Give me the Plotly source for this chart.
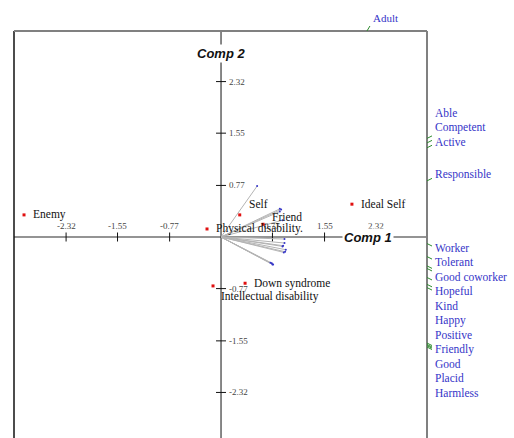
import plotly.graph_objects as go
import numpy as np

# ---- data ----
point_names = ["Enemy", "Self", "Friend", "Physical disability.", "Ideal Self",
               "Down syndrome", "Intellectual disability"]
point_x = [-2.95, 0.28, 0.63, -0.21, 1.96, 0.36, -0.12]
point_y = [0.33, 0.33, 0.19, 0.12, 0.49, -0.69, -0.73]

var_names = ["Adult", "Able", "Competent", "Active", "Responsible", "Worker", "Tolerant",
             "Good coworker", "Hopeful", "Kind", "Happy", "Positive", "Friendly",
             "Good", "Placid", "Harmless"]
var_x = [0.54, 0.88, 0.90, 0.88, 0.92, 0.95, 0.95, 0.93, 0.92, 0.97, 0.96, 0.94,
         0.76, 0.74, 0.78, 0.77]
var_y = [0.76, 0.42, 0.41, 0.38, 0.25, -0.03, -0.09, -0.13, -0.14, -0.19, -0.22,
         -0.23, -0.39, -0.385, -0.41, -0.41]

tick_vals = [-2.32, -1.55, -0.77, 0.77, 1.55, 2.32]
tick_text = ["-2.32", "-1.55", "-0.77", "0.77", "1.55", "2.32"]

# ---- layout constants ----
W, H = 514, 438
ML, MR, MT, MB = 14, 87, 31, 0
XR = [-3.10, 3.084]
YR = [-3.0, 3.075]
SX = (W - ML - MR) / (XR[1] - XR[0])   # px per unit
SY = (H - MT - MB) / (YR[1] - YR[0])

BLUE = "#3535c8"
GREEN = "#2e8b2e"
RED = "#e01010"
SERIF = "Liberation Serif"


def px(x):
    return (x - XR[0]) / (XR[1] - XR[0])


def py(y):
    return (y - YR[0]) / (YR[1] - YR[0])


fig = go.Figure()
shapes = []
annotations = []

# frame (left, top, right)
shapes.append(dict(type="line", xref="paper", yref="paper", x0=0, x1=0, y0=0, y1=1,
                   line=dict(color="#111111", width=1.5), layer="above"))
shapes.append(dict(type="line", xref="paper", yref="paper", x0=0, x1=1, y0=1, y1=1,
                   line=dict(color="#808080", width=2), layer="above"))
shapes.append(dict(type="line", xref="paper", yref="paper", x0=1, x1=1, y0=0, y1=1,
                   line=dict(color="#808080", width=2), layer="above"))

# axes through origin
shapes.append(dict(type="line", x0=XR[0], x1=XR[1], y0=0, y1=0, layer="below",
                   line=dict(color="#707070", width=1.5)))
shapes.append(dict(type="line", x0=0, x1=0, y0=YR[0], y1=YR[1], layer="below",
                   line=dict(color="#111111", width=1)))

# ticks
th_y = 4.5 / SY
th_x = 5 / SX
for v, t in zip(tick_vals, tick_text):
    shapes.append(dict(type="line", x0=v, x1=v, y0=-th_y, y1=th_y, layer="below",
                       line=dict(color="#111111", width=1)))
    annotations.append(dict(x=v, y=0, text=t, showarrow=False, yshift=11,
                            xanchor="center", yanchor="middle",
                            font=dict(family=SERIF, size=9, color="#444444")))
    shapes.append(dict(type="line", x0=-th_x, x1=th_x, y0=v, y1=v, layer="below",
                       line=dict(color="#111111", width=1)))
    annotations.append(dict(x=0, y=v, text=t, showarrow=False, xshift=6,
                            xanchor="left", yanchor="middle",
                            font=dict(family=SERIF, size=9, color="#444444")))

# axis titles
annotations.append(dict(x=(368 - ML) / SX + XR[0], y=0, text="<b><i>Comp 1</i></b>",
                        showarrow=False, xanchor="center", yanchor="middle",
                        bgcolor="white", borderpad=1,
                        font=dict(family="Liberation Sans", size=13, color="#111111")))
annotations.append(dict(x=0, y=YR[1] - (53 - MT) / SY, text="<b><i>Comp 2</i></b>",
                        showarrow=False, xanchor="center", yanchor="middle",
                        bgcolor="white", borderpad=1,
                        font=dict(family="Liberation Sans", size=13, color="#111111")))

# vectors
vx_lines, vy_lines = [], []
for x, y in zip(var_x, var_y):
    vx_lines += [0, x, None]
    vy_lines += [0, y, None]
fig.add_trace(go.Scatter(x=vx_lines, y=vy_lines, mode="lines",
                         line=dict(color="#b4b4b4", width=1), hoverinfo="skip"))
fig.add_trace(go.Scatter(x=var_x, y=var_y, mode="markers",
                         marker=dict(color=BLUE, size=2), hoverinfo="skip"))

# variable labels placed where vector directions meet the frame
right_up, right_down = [], []
for name, x, y in zip(var_names, var_x, var_y):
    t_right = XR[1] / x if x > 0 else np.inf
    t_top = YR[1] / y if y > 0 else np.inf
    if t_top < t_right:
        bx, by = x * t_top, YR[1]
        shapes.append(dict(type="line", xref="paper", yref="paper",
                           x0=px(bx), x1=px(bx + 3 / SX), y0=py(by), y1=py(by + 5 / SY),
                           line=dict(color=GREEN, width=1)))
        annotations.append(dict(xref="paper", yref="paper", x=px(bx + 4 / SX),
                                y=py(by + 13 / SY), text=name, showarrow=False,
                                xanchor="left", yanchor="middle",
                                font=dict(family=SERIF, size=11, color=BLUE)))
    else:
        by = y * t_right
        (right_up if by > 0 else right_down).append((name, by))

gap = 14.5 / SY
off = 5 / SY
placed = []
prev = None
for name, by in sorted(right_up, key=lambda p: p[1]):
    ly = by + off if prev is None else max(by + off, prev + gap)
    prev = ly
    placed.append((name, by, ly))
prev = None
for name, by in sorted(right_down, key=lambda p: -p[1]):
    ly = by - off if prev is None else min(by - off, prev - gap)
    prev = ly
    placed.append((name, by, ly))
for name, by, ly in placed:
    dy = np.clip(ly - by, -2.5 / SY, 2.5 / SY)
    shapes.append(dict(type="line", xref="paper", yref="paper",
                       x0=px(XR[1]), x1=px(XR[1] + 5 / SX), y0=py(by), y1=py(by + dy),
                       line=dict(color=GREEN, width=1)))
    annotations.append(dict(xref="paper", yref="paper", x=px(XR[1] + 6 / SX),
                            y=py(ly + 1 / SY), text=name, showarrow=False,
                            xanchor="left", yanchor="middle",
                            font=dict(family=SERIF, size=11.5, color=BLUE)))

# points
fig.add_trace(go.Scatter(x=point_x, y=point_y, mode="markers",
                         marker=dict(color=RED, size=3, symbol="square"),
                         hoverinfo="skip"))
label_shift = {"Self": (7, 11), "Friend": (7, 7), "Intellectual disability": (6, -11)}
for name, x, y in zip(point_names, point_x, point_y):
    dx, dy = label_shift.get(name, (7, 0))
    annotations.append(dict(x=x, y=y, text=name, showarrow=False, xshift=dx, yshift=dy,
                            xanchor="left", yanchor="middle",
                            font=dict(family=SERIF, size=11.5, color="#111111")))

fig.update_layout(
    width=W, height=H, autosize=False,
    margin=dict(l=ML, r=MR, t=MT, b=MB, pad=0),
    paper_bgcolor="white", plot_bgcolor="white",
    showlegend=False,
    xaxis=dict(range=XR, visible=False, fixedrange=True),
    yaxis=dict(range=YR, visible=False, fixedrange=True),
    shapes=shapes, annotations=annotations,
)

fig.write_html("out.html", config={"displayModeBar": False},
               post_script="document.body.style.margin='0';")
